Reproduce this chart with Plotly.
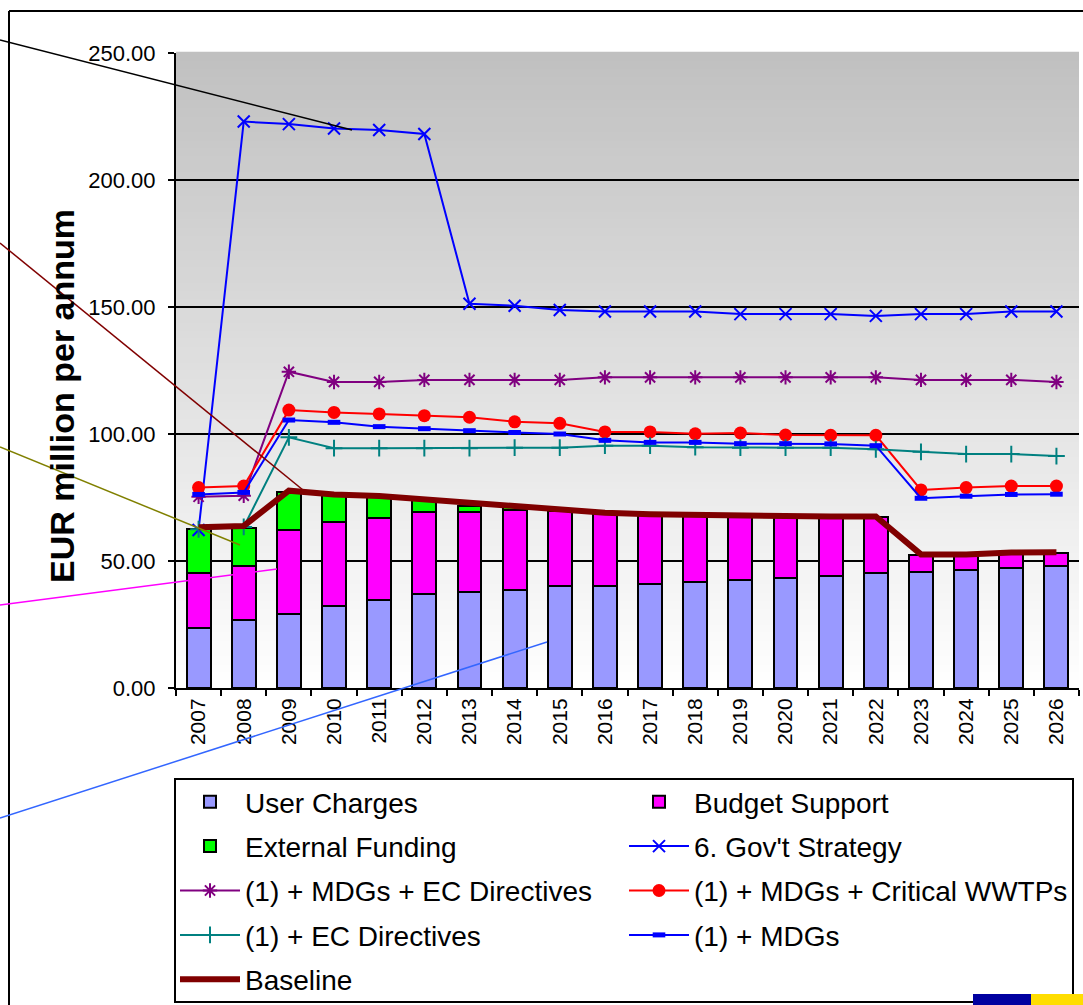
import plotly.graph_objects as go

W, H = 1083, 1005

years = [str(y) for y in range(2007, 2027)]

user_charges = [23.7, 26.8, 29.1, 32.3, 34.6, 37.0, 37.9, 38.6, 40.2, 40.2,
                41.1, 41.9, 42.5, 43.4, 44.2, 45.1, 45.8, 46.6, 47.4, 48.2]
budget_support = [21.4, 21.4, 33.1, 33.2, 32.5, 32.3, 31.4, 31.5, 29.6, 28.6,
                  27.1, 26.0, 25.4, 23.9, 23.1, 22.2, 6.5, 5.8, 5.6, 4.9]
external_funding = [17.4, 14.9, 15.1, 10.4, 8.2, 4.7, 2.2, 1.0, 0, 0,
                    0, 0, 0, 0, 0, 0, 0, 0, 0, 0]

govt_strategy = [62.2, 223.0, 222.0, 220.3, 219.7, 218.1, 151.3, 150.5, 148.8, 148.2,
                 148.2, 148.2, 147.2, 147.2, 147.2, 146.5, 147.2, 147.2, 148.2, 148.2]
mdgs_ec = [75.3, 75.7, 124.5, 120.5, 120.5, 121.3, 121.3, 121.3, 121.3, 122.3,
           122.3, 122.3, 122.3, 122.3, 122.3, 122.3, 121.3, 121.3, 121.3, 120.5]
mdgs_wwtp = [78.9, 79.5, 109.4, 108.5, 107.9, 107.2, 106.6, 104.8, 104.2, 100.8,
             100.8, 100.1, 100.4, 99.6, 99.5, 99.5, 78.0, 78.9, 79.5, 79.5]
ec_directives = [62.5, 63.4, 98.7, 94.4, 94.4, 94.4, 94.4, 94.6, 94.6, 95.4,
                 95.4, 94.8, 94.6, 94.6, 94.6, 94.0, 93.0, 92.1, 92.1, 91.3]
mdgs = [76.2, 77.0, 105.5, 104.6, 102.9, 102.1, 101.3, 100.6, 100.0, 97.5,
        96.7, 96.7, 96.2, 96.2, 96.1, 95.4, 74.7, 75.5, 76.2, 76.3]
baseline = [63.3, 63.8, 77.7, 76.2, 75.6, 74.3, 72.7, 71.7, 70.1, 69.0,
            68.4, 68.1, 68.1, 67.5, 67.5, 67.5, 52.6, 52.6, 53.3, 53.4]

y_ticks = [0, 50, 100, 150, 200, 250]

FONT = "Liberation Sans, Arial, sans-serif"


def px(x):
    return x / W


def py(y):
    return 1 - y / H


fig = go.Figure()

bar_line = dict(color="black", width=2)
fig.add_trace(go.Bar(x=years, y=user_charges, name="User Charges",
                     legend="legend", legendgroup="a",
                     marker=dict(color="#9999FF", line=bar_line)))
fig.add_trace(go.Bar(x=years, y=budget_support, name="Budget Support",
                     legend="legend2", legendgroup="b",
                     marker=dict(color="#FF00FF", line=bar_line)))
fig.add_trace(go.Bar(x=years, y=external_funding, name="External Funding",
                     legend="legend", legendgroup="c",
                     marker=dict(color="#00FF00", line=bar_line)))

fig.add_trace(go.Scatter(x=years, y=govt_strategy, name="6. Gov't Strategy",
                         legend="legend2", legendgroup="d",
                         mode="lines+markers",
                         line=dict(color="#0000FF", width=2),
                         marker=dict(symbol="x-thin-open", size=12,
                                     line=dict(color="#0000FF", width=2))))
fig.add_trace(go.Scatter(x=years, y=mdgs_ec, name="(1) + MDGs + EC Directives",
                         legend="legend", legendgroup="e",
                         mode="lines+markers",
                         line=dict(color="#800080", width=2),
                         marker=dict(symbol="asterisk-open", size=12,
                                     line=dict(color="#800080", width=2))))
fig.add_trace(go.Scatter(x=years, y=mdgs_wwtp, name="(1) + MDGs + Critical WWTPs",
                         legend="legend2", legendgroup="f",
                         mode="lines+markers",
                         line=dict(color="#FF0000", width=2),
                         marker=dict(symbol="circle", size=13, color="#FF0000")))
fig.add_trace(go.Scatter(x=years, y=ec_directives, name="(1) + EC Directives",
                         legend="legend", legendgroup="g",
                         mode="lines+markers",
                         line=dict(color="#008080", width=2),
                         marker=dict(symbol="cross-thin-open", size=12,
                                     line=dict(color="#008080", width=2))))
fig.add_trace(go.Scatter(x=years, y=mdgs, name="(1) + MDGs",
                         legend="legend2", legendgroup="h",
                         mode="lines+markers",
                         line=dict(color="#0000FF", width=2),
                         marker=dict(symbol="line-ew-open", size=9,
                                     line=dict(color="#0000FF", width=5))))
fig.add_trace(go.Scatter(x=years, y=baseline, name="Baseline",
                         legend="legend", legendgroup="i",
                         mode="lines",
                         line=dict(color="#800000", width=6)))

shapes = []
# gradient plot background
n = 80
for i in range(n):
    t = (i + 0.5) / n
    c = int(round(255 - (255 - 192) * t))
    shapes.append(dict(type="rect", xref="x domain", yref="y domain",
                       x0=0, x1=1, y0=i / n, y1=(i + 1) / n + 0.002,
                       fillcolor=f"rgb({c},{c},{c})", line=dict(width=0),
                       layer="below"))

# outer frame
shapes.append(dict(type="line", xref="paper", yref="paper",
                   x0=px(9), x1=px(1083), y0=py(11), y1=py(11),
                   line=dict(color="black", width=2)))
shapes.append(dict(type="line", xref="paper", yref="paper",
                   x0=px(9), x1=px(9), y0=py(11), y1=py(1005),
                   line=dict(color="black", width=2)))

# legend frame
shapes.append(dict(type="rect", xref="paper", yref="paper",
                   x0=px(175), x1=px(1073), y0=py(1002), y1=py(779),
                   line=dict(color="black", width=2)))

# callout lines from the left
callouts = [
    ((0, 40), (352, 130), "#000000"),
    ((0, 243), (303, 490), "#800000"),
    ((0, 447), (240, 545), "#808000"),
    ((0, 605), (277, 569), "#FF00FF"),
    ((0, 818), (547, 642), "#3366FF"),
]
for (xa, ya), (xb, yb), col in callouts:
    shapes.append(dict(type="line", xref="paper", yref="paper",
                       x0=px(xa), y0=py(ya), x1=px(xb), y1=py(yb),
                       line=dict(color=col, width=1.5), layer="above"))

# corner colour blocks
shapes.append(dict(type="rect", xref="paper", yref="paper",
                   x0=px(973), x1=px(1031), y0=py(1005), y1=py(994),
                   fillcolor="#0000A0", line=dict(width=0), layer="above"))
shapes.append(dict(type="rect", xref="paper", yref="paper",
                   x0=px(1031), x1=px(1083), y0=py(1005), y1=py(994),
                   fillcolor="#FFDD00", line=dict(width=0), layer="above"))

annotations = [dict(text="<b>EUR million per annum</b>", textangle=-90,
                    xref="paper", yref="paper", x=px(62), y=py(396),
                    xanchor="center", yanchor="middle", showarrow=False,
                    font=dict(family=FONT, size=34, color="black"))]

legend_common = dict(orientation="v", yanchor="top", xanchor="left",
                     bgcolor="rgba(0,0,0,0)", borderwidth=0,
                     font=dict(family=FONT, size=28, color="black"),
                     itemwidth=60, tracegroupgap=5, traceorder="grouped")

fig.update_layout(
    width=W, height=H,
    margin=dict(l=0, r=0, t=0, b=0, autoexpand=False),
    paper_bgcolor="white", plot_bgcolor="white",
    barmode="stack", bargap=0.47,
    font=dict(family=FONT, color="black"),
    shapes=shapes, annotations=annotations,
    showlegend=True,
    legend=dict(x=px(175), y=py(777), **legend_common),
    legend2=dict(x=px(624), y=py(777), **legend_common),
    xaxis=dict(domain=[px(176), px(1079)], type="category",
               range=[-0.5, len(years) - 0.5], autorange=False,
               tickangle=-90, ticks="outside", tickson="boundaries",
               ticklen=6, tickwidth=1.5, tickcolor="black",
               showline=True, linecolor="black", linewidth=2,
               showgrid=False, automargin=False,
               tickfont=dict(family=FONT, size=21, color="black")),
    yaxis=dict(domain=[py(688), py(53)], range=[0, 250],
               tickvals=y_ticks, tickformat=".2f",
               ticks="outside", ticklen=6, tickwidth=1.5, tickcolor="black",
               showline=True, linecolor="black", linewidth=2,
               showgrid=True, gridcolor="black", gridwidth=1.5,
               zeroline=False, automargin=False, ticklabelstandoff=8,
               tickfont=dict(family=FONT, size=22, color="black")),
)

fig.write_html("out.html",
               config={"displayModeBar": False},
               post_script="document.body.style.margin='0';"
                           "document.body.style.padding='0';"
                           "document.body.style.overflow='hidden';")
